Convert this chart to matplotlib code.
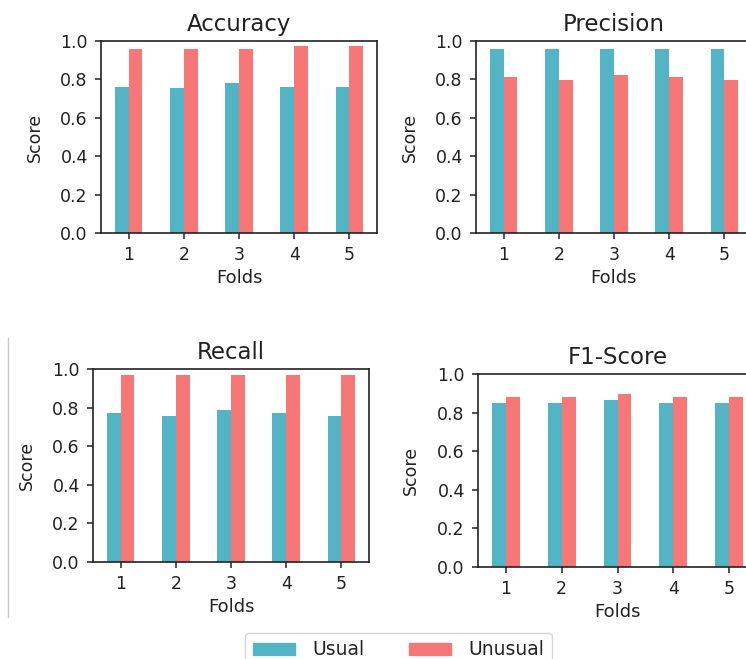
import pandas as pd
import matplotlib
matplotlib.use('Agg')
import matplotlib.pyplot as plt
from matplotlib.lines import Line2D

folds = [1, 2, 3, 4, 5]
series_names = ['Usual', 'Unusual']

acc_usual = [0.76, 0.755, 0.78, 0.76, 0.76]
acc_unusual = [0.96, 0.96, 0.96, 0.972, 0.972]

prec_usual = [0.958, 0.958, 0.958, 0.958, 0.958]
prec_unusual = [0.811, 0.799, 0.825, 0.811, 0.799]

rec_usual = [0.77, 0.756, 0.789, 0.77, 0.756]
rec_unusual = [0.969, 0.969, 0.969, 0.969, 0.969]

f1_usual = [0.852, 0.852, 0.864, 0.852, 0.852]
f1_unusual = [0.883, 0.883, 0.895, 0.883, 0.883]

colors = ['#52b4c4', '#f77676']
textColor = '#222222'

plt.rcParams['font.family'] = 'DejaVu Sans'
plt.rcParams['text.color'] = textColor
plt.rcParams['axes.labelcolor'] = textColor
plt.rcParams['xtick.color'] = textColor
plt.rcParams['ytick.color'] = textColor

W, H = 746, 659
fig = plt.figure(figsize = (W / 100, H / 100), dpi = 100)

def pxAxes(left, top, width, height):
    # axes placed from pixel box (top-left origin)
    return fig.add_axes([left / W, (H - top - height) / H, width / W, height / H])

panels = [
    ('Accuracy',  acc_usual,  acc_unusual,  (101, 41, 276, 192)),
    ('Precision', prec_usual, prec_unusual, (476, 41, 276, 192)),
    ('Recall',    rec_usual,  rec_unusual,  (93, 369, 276, 193)),
    ('F1-Score',  f1_usual,   f1_unusual,   (478, 374, 279, 193)),
]

for title, usual, unusual, box in panels:
    ax = pxAxes(*box)
    df = pd.DataFrame({'Usual': usual, 'Unusual': unusual}, index = folds)
    df.plot(kind = 'bar', ax = ax, rot = 0, legend = False, color = colors)
    ax.set_ylim(0, 1.0)
    ax.set_yticks([0.0, 0.2, 0.4, 0.6, 0.8, 1.0])
    ax.set_title(title, fontsize = 16.5, pad = 7)
    ax.set_xlabel('Folds', fontsize = 13)
    ax.set_ylabel('Score', fontsize = 12.5)
    ax.xaxis.set_label_coords(0.5, -0.185)
    ax.yaxis.set_label_coords(-0.207, 0.5)
    ax.tick_params(labelsize = 12.5, length = 4.5, width = 1.1, pad = 5)
    for sp in ax.spines.values():
        sp.set_linewidth(1.2)
        sp.set_color('#222222')

# thin border line on the left of the lower row
fig.add_artist(Line2D([8.3 / W, 8.3 / W], [(H - 338) / H, (H - 617) / H],
                      color = '#c8c8c8', lw = 1))

handles = [plt.Rectangle((0, 0), 1, 1, color = c) for c in colors]
fig.legend(handles, series_names, loc = 'upper center', ncol = 2,
           bbox_to_anchor = (398.5 / W, (H - 632.7) / H), borderaxespad = 0,
           fontsize = 13.5, handlelength = 2.25, handleheight = 0.6,
           handletextpad = 0.9, columnspacing = 2.4)

fig.savefig('out.png', dpi = 100)
